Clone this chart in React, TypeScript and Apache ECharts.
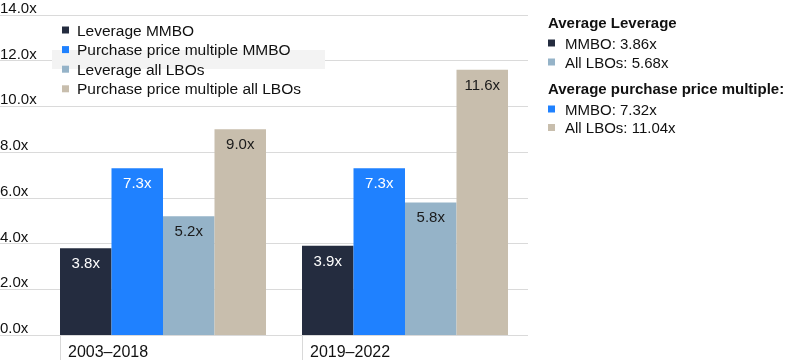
import React, { useEffect, useRef } from "react";
import * as echarts from "echarts";

const categories = ["2003–2018", "2019–2022"];
const tickCategories = ["2003–2018", "2019–2022", ""];
const seriesNames = [
  "Leverage MMBO",
  "Purchase price multiple MMBO",
  "Leverage all LBOs",
  "Purchase price multiple all LBOs",
];
const leverageMMBO = [3.8, 3.9];
const priceMMBO = [7.3, 7.3];
const leverageAll = [5.2, 5.8];
const priceAll = [9.0, 11.6];
const yTicks = [0, 2, 4, 6, 8, 10, 12, 14];
const colors = ["#242c3f", "#1f81ff", "#95b3c8", "#c8bead"];
const labelColors = ["#ffffff", "#ffffff", "#1a1a1a", "#1a1a1a"];

const avgTitle1 = "Average Leverage";
const avgLeverage = [
  { label: "MMBO: 3.86x", color: colors[0] },
  { label: "All LBOs: 5.68x", color: colors[2] },
];
const avgTitle2 = "Average purchase price multiple:";
const avgPrice = [
  { label: "MMBO: 7.32x", color: colors[1] },
  { label: "All LBOs: 11.04x", color: colors[3] },
];

const FONT = "'Liberation Sans', Arial, sans-serif";

export default function App() {
  const ref = useRef<HTMLDivElement>(null);
  useEffect(() => {
    if (!ref.current) return;
    const chart = echarts.init(ref.current, undefined, { renderer: "svg" });
    const values = [leverageMMBO, priceMMBO, leverageAll, priceAll];
    const barSeries: any[] = values.map((d, i) => ({
      name: seriesNames[i],
      type: "bar",
      xAxisIndex: 1,
      yAxisIndex: 1,
      data: d,
      barWidth: 51.5,
      barGap: "0%",
      z: 3,
      itemStyle: { color: colors[i] },
      label: {
        show: true,
        position: "insideTop",
        distance: 7,
        color: labelColors[i],
        fontFamily: FONT,
        fontSize: 15,
        formatter: (p: any) => p.value.toFixed(1) + "x",
      },
    }));
    barSeries.push({
      name: "spacer",
      type: "bar",
      xAxisIndex: 1,
      yAxisIndex: 1,
      data: [null, null],
      barWidth: 36,
      barGap: "0%",
      silent: true,
    });

    const graphics: any[] = [
      {
        type: "rect",
        z: 1,
        shape: { x: 52, y: 50, width: 273, height: 19 },
        style: { fill: "#f3f3f3" },
      },
    ];
    const addText = (text: string, x: number, y: number, bold: boolean) =>
      graphics.push({
        type: "text",
        z: 5,
        x,
        y,
        style: {
          text,
          fill: "#111111",
          font: `${bold ? "bold " : ""}15px ${FONT}`,
          textVerticalAlign: "middle",
          verticalAlign: "middle",
        },
      });
    const addItem = (label: string, color: string, y: number) => {
      graphics.push({
        type: "rect",
        z: 5,
        shape: { x: 548, y: y - 3.5, width: 7, height: 7 },
        style: { fill: color },
      });
      addText(label, 565, y, false);
    };
    addText(avgTitle1, 548, 22, true);
    addItem(avgLeverage[0].label, avgLeverage[0].color, 43);
    addItem(avgLeverage[1].label, avgLeverage[1].color, 62);
    addText(avgTitle2, 548, 88, true);
    addItem(avgPrice[0].label, avgPrice[0].color, 109);
    addItem(avgPrice[1].label, avgPrice[1].color, 127.5);

    chart.setOption({
      animation: false,
      textStyle: { fontFamily: FONT },
      grid: [
        { left: 0, right: 272, top: 15, bottom: 25, outerBoundsMode: "none", containLabel: false },
        { left: 60, width: 484, top: 15, bottom: 25, outerBoundsMode: "none", containLabel: false },
      ],
      legend: {
        data: seriesNames,
        orient: "vertical",
        left: 62,
        top: 22,
        padding: 0,
        itemWidth: 7,
        itemHeight: 7,
        itemGap: 3.6,
        icon: "rect",
        z: 6,
        textStyle: {
          fontFamily: FONT,
          fontSize: 15.5,
          color: "#111111",
          lineHeight: 14,
          padding: [0, 0, 0, 3],
        },
      },
      xAxis: [
        {
          type: "category",
          gridIndex: 0,
          data: ["a"],
          axisLine: { show: false },
          axisTick: { show: false },
          axisLabel: { show: false },
        },
        {
          type: "category",
          gridIndex: 1,
          data: categories,
          show: false,
        },
        {
          type: "category",
          gridIndex: 1,
          position: "bottom",
          data: tickCategories,
          boundaryGap: false,
          axisLine: { show: false },
          axisTick: {
            show: true,
            length: 25,
            interval: (_i: number, v: string) => v !== "",
            lineStyle: { color: "#d9d9d9", width: 1 },
          },
          axisLabel: {
            interval: 0,
            align: "left",
            margin: 8,
            padding: [0, 0, 0, 8],
            fontFamily: FONT,
            fontSize: 16,
            color: "#111111",
          },
        },
      ],
      yAxis: [
        {
          type: "value",
          gridIndex: 0,
          min: yTicks[0],
          max: yTicks[yTicks.length - 1],
          interval: yTicks[1] - yTicks[0],
          axisLine: { show: false },
          axisTick: { show: false },
          splitLine: { show: true, lineStyle: { color: "#dadada", width: 1, type: "solid", opacity: 1 } },
          axisLabel: {
            inside: true,
            margin: 0,
            verticalAlign: "bottom",
            lineHeight: 15,
            fontFamily: FONT,
            fontSize: 15,
            color: "#111111",
            formatter: (v: number) => v.toFixed(1) + "x",
          },
        },
        {
          type: "value",
          gridIndex: 1,
          min: yTicks[0],
          max: yTicks[yTicks.length - 1],
          interval: yTicks[1] - yTicks[0],
          axisLine: { show: false },
          axisTick: { show: false },
          axisLabel: { show: false },
          splitLine: { show: false },
        },
      ],
      series: [
        {
          type: "line",
          xAxisIndex: 0,
          yAxisIndex: 0,
          data: [],
          silent: true,
        },
        ...barSeries,
      ],
      graphic: graphics,
    });
    return () => chart.dispose();
  }, []);
  return (
    <div
      ref={ref}
      style={{ position: "fixed", left: 0, top: 0, width: 800, height: 360 }}
    />
  );
}
